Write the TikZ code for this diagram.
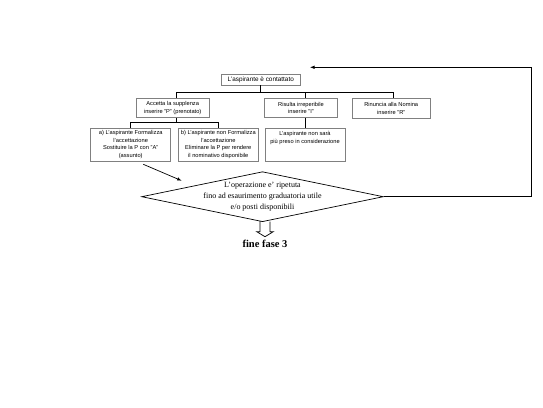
\documentclass[tikz,border=0pt]{standalone}
\usepackage{fontspec}
\setmainfont{Liberation Serif}
\setsansfont{Liberation Sans}
\usetikzlibrary{shapes.geometric,arrows.meta}

\begin{document}
\begin{tikzpicture}[x=1pt,y=-1pt,
    box/.style={draw=black!50,line width=0.8pt,align=center,inner sep=0pt,
                font=\sffamily\fontsize{5.7}{7.6}\selectfont},
    wide/.style={box,minimum width=73pt,minimum height=19.4pt},
    sub/.style={box,minimum width=80pt,minimum height=32.7pt},
    link/.style={draw=black,line width=0.8pt},
    flow/.style={-{Latex[length=4.5pt,width=3.5pt]},draw=black,line width=0.7pt}
  ]
    \useasboundingbox (0,0) rectangle (543,407);

    \node[box,minimum width=78.3pt,minimum height=11pt,
          font=\sffamily\fontsize{6.4}{7.6}\selectfont] (contact) at (260.8,79.5)
      {L'aspirante è contattato};

    \node[wide] (accept) at (172.7,108) {Accetta la supplenza\\inserire "P" (prenotato)};
    \node[wide] (unreach) at (301,108) {Risulta irreperibile\\inserire "I"};
    \node[wide,minimum width=77.7pt] (refuse) at (391.2,108.3) {Rinuncia alla Nomina\\inserire "R"};

    \node[sub] (formal) at (130.7,144.7)
      {a) L'aspirante Formalizza\\l'accettazione\\Sostituire la P con "A"\\(assunto)};
    \node[sub] (noformal) at (218.3,144.7)
      {b) L'aspirante non Formalizza\\l'accettazione\\Eliminare la P per rendere\\il nominativo disponibile};
    \node[sub] (excluded) at (305,144.7)
      {L'aspirante non sarà\\più preso in considerazione\\~\\~};

    \node[diamond,draw=black,line width=0.7pt,inner sep=0pt,
          minimum width=241.7pt,minimum height=50pt] (check) at (262.5,196.7) {};
    \node[align=center,inner sep=0pt,font=\fontsize{8}{11}\selectfont] (checktext) at (check.center)
      {L'operazione e' ripetuta\\fino ad esaurimento graduatoria utile\\e/o posti disponibili};

    \node[font=\bfseries\fontsize{10.5}{12}\selectfont] (finish) at (265,244.3) {fine fase 3};

    % albero delle scelte
    \coordinate (busL) at (176,92.3);
    \coordinate (busR) at (393.3,92.3);
    \draw[link] (contact.south) -- (contact.south |- busL);
    \draw[link] (busL) -- (busR);
    \draw[link] (busL) -- (busL |- accept.north);
    \draw[link] (excluded.north |- busL) -- (excluded.north |- unreach.north);
    \draw[link] (busR) -- (busR |- refuse.north);
    \draw[link] (unreach.south -| excluded.north) -- (excluded.north);
    \draw[link] (accept.south -| busL) -- ++(0,4.6) coordinate (fork);
    \draw[link] (formal.north) |- (fork) -| (noformal.north);

    % verso la verifica
    \coordinate (aout) at (143.3,164.3);
    \coordinate (ain) at (181.7,180.7);
    \draw[flow] (aout) -- (ain);

    % ritorno
    \coordinate (corner) at (531.7,67.3);
    \coordinate (back) at (310,67.3);
    \draw[flow] (check.east) -| (corner) -- (back);

    % freccia vuota
    \draw[line width=0.7pt] (260,221.2) -- (260,231.7) -- (256.7,231.7) -- (265,236.7)
      -- (273.3,231.7) -- (270,231.7) -- (270,221.6);
  \end{tikzpicture}
\end{document}
